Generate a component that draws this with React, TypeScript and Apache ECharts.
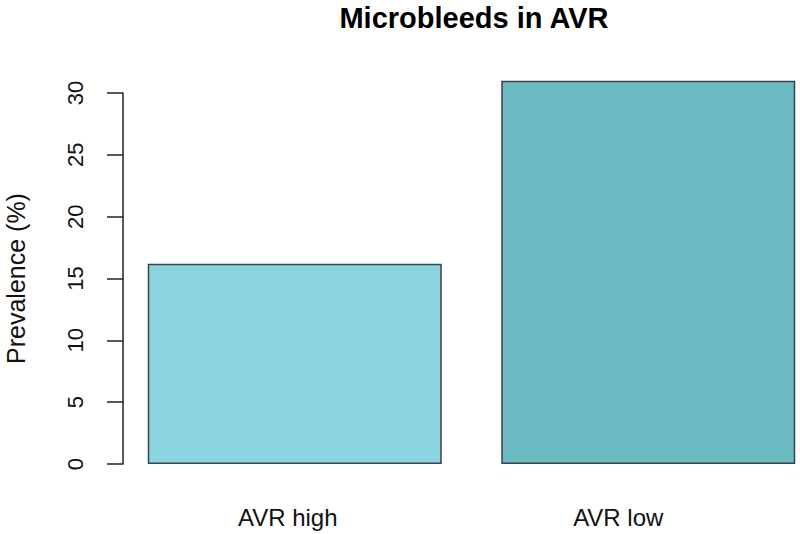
import React, { useEffect, useRef } from "react";
import * as echarts from "echarts";

const categories = ["AVR high", "AVR low"];
const prevalence = [16.2, 31.0];
const barColors = ["#8AD4E0", "#6BB9C1"];
const yTicks = { min: 0, max: 30, interval: 5 };
const titleText = "Microbleeds in AVR";
const yAxisName = "Prevalence (%)";

export default function App() {
  const ref = useRef<HTMLDivElement>(null);
  useEffect(() => {
    if (!ref.current) return;
    const chart = echarts.init(ref.current, null, { renderer: "svg" });
    const font = "'Liberation Sans', Arial, Helvetica, sans-serif";
    chart.setOption({
      animation: false,
      backgroundColor: "#ffffff",
      title: {
        text: titleText,
        left: 474,
        top: 3,
        padding: 0,
        textAlign: "center",
        textStyle: { fontFamily: font, fontWeight: "bold", fontSize: 29, color: "#000" },
      },
      grid: { left: 118, top: 93, width: 707, height: 371, outerBoundsMode: "none", containLabel: false },
      xAxis: {
        type: "category",
        data: categories,
        axisLine: { show: false },
        axisTick: { show: false },
        axisLabel: {
          margin: 41,
          fontFamily: font,
          fontSize: 24,
          color: "#111",
          formatter: (v: string, i: number) => (i === 0 ? `{a|${v}}` : `{b|${v}}`),
          rich: {
            a: { fontFamily: font, fontSize: 24, color: "#111", padding: [0, 14, 0, 0] },
            b: { fontFamily: font, fontSize: 24, color: "#111", padding: [0, 60, 0, 0] },
          },
        },
      },
      yAxis: {
        type: "value",
        min: yTicks.min,
        max: yTicks.max,
        interval: yTicks.interval,
        offset: -5,
        name: yAxisName,
        nameLocation: "middle",
        nameGap: 107,
        nameRotate: 90,
        nameTextStyle: {
          fontFamily: font,
          fontSize: 25,
          color: "#111",
          align: "center",
          verticalAlign: "middle",
        },
        axisLine: { show: true, lineStyle: { color: "#222", width: 1.5 } },
        axisTick: { show: true, length: 16, lineStyle: { color: "#222", width: 1.5 } },
        splitLine: { show: false },
        axisLabel: {
          rotate: 90,
          margin: 48,
          align: "center",
          verticalAlign: "middle",
          fontFamily: font,
          fontSize: 22,
          color: "#111",
        },
      },
      series: [
        {
          type: "bar",
          clip: false,
          barWidth: 294,
          data: prevalence.map((v, i) => ({
            value: v,
            itemStyle: { color: barColors[i] },
          })),
          itemStyle: { borderColor: "#3a4446", borderWidth: 1.5 },
        },
      ],
    });
    return () => chart.dispose();
  }, []);
  return (
    <div
      ref={ref}
      style={{ position: "fixed", left: 0, top: 0, width: 800, height: 534 }}
    />
  );
}
